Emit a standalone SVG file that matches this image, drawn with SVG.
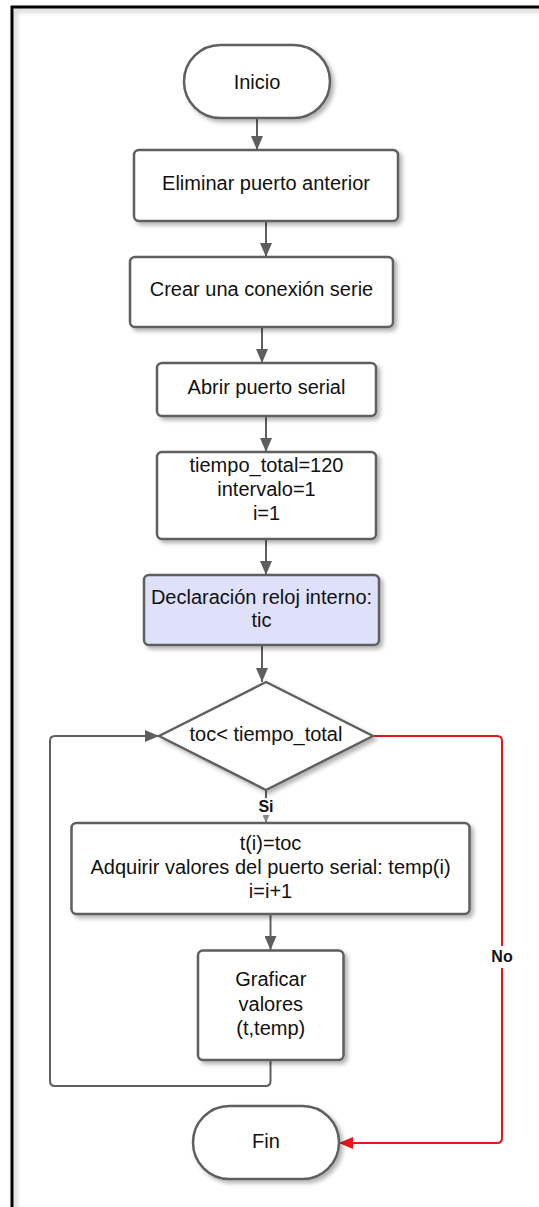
<svg xmlns="http://www.w3.org/2000/svg" width="539" height="1207" viewBox="0 0 539 1207">
<style>
  .node{fill:#ffffff;stroke:#5e5e5e;stroke-width:2.5;filter:url(#sh)}
  .hl{fill:#dfe0fa}
  .t{font-family:"Liberation Sans",Arial,sans-serif;font-size:20px;fill:#111;text-anchor:middle}
  .lbl{font-family:"Liberation Sans",Arial,sans-serif;font-size:16px;font-weight:bold;fill:#111;text-anchor:middle}
  .c{fill:none;stroke:#5e5e5e;stroke-width:2}
  .r{fill:none;stroke:#e8161a;stroke-width:2}
</style>
<defs>
  <filter id="sh" x="-20%" y="-20%" width="140%" height="140%">
    <feDropShadow dx="3" dy="3" stdDeviation="2" flood-color="#000" flood-opacity="0.3"/>
  </filter>
  <filter id="fsh" x="-5%" y="-5%" width="110%" height="110%">
    <feDropShadow dx="3" dy="3" stdDeviation="2.5" flood-color="#000" flood-opacity="0.25"/>
  </filter>
  <marker id="ag" viewBox="0 0 14 12" refX="14" refY="6" markerWidth="14" markerHeight="12" markerUnits="userSpaceOnUse" orient="auto">
    <path d="M0,0 L14,6 L0,12 Z" fill="#5e5e5e"/>
  </marker>
  <marker id="as" viewBox="0 0 8 7" refX="8" refY="3.5" markerWidth="8" markerHeight="7" markerUnits="userSpaceOnUse" orient="auto">
    <path d="M0,0 L8,3.5 L0,7 Z" fill="#8a8a8a"/>
  </marker>
  <marker id="ar" viewBox="0 0 14 12" refX="14" refY="6" markerWidth="14" markerHeight="12" markerUnits="userSpaceOnUse" orient="auto">
    <path d="M0,0 L14,6 L0,12 Z" fill="#e8161a"/>
  </marker>
</defs>
<rect width="539" height="1207" fill="#ffffff"/>
<rect x="12" y="7" width="560" height="1230" fill="none" stroke="#000" stroke-width="3" filter="url(#fsh)"/>

<g id="connectors">
  <line class="c" x1="257" y1="118" x2="257" y2="150" marker-end="url(#ag)"/>
  <line class="c" x1="266" y1="221" x2="266" y2="257" marker-end="url(#ag)"/>
  <line class="c" x1="262" y1="327" x2="262" y2="363" marker-end="url(#ag)"/>
  <line class="c" x1="266" y1="416" x2="266" y2="452" marker-end="url(#ag)"/>
  <line class="c" x1="266" y1="539" x2="266" y2="575" marker-end="url(#ag)"/>
  <line class="c" x1="262" y1="645" x2="262" y2="682" marker-end="url(#ag)"/>
  <line class="c" x1="266" y1="790" x2="266" y2="823" stroke="#8a8a8a" stroke-width="1.5" marker-end="url(#as)"/>
  <rect x="254" y="798" width="24" height="17" fill="#ffffff"/>
  <text class="lbl" x="266" y="812">Si</text>
  <line class="c" x1="270.5" y1="914" x2="270.5" y2="950" marker-end="url(#ag)"/>
  <path class="c" d="M270.5,1060 V1081 Q270.5,1086 265.5,1086 H55 Q50,1086 50,1081 V741 Q50,736 55,736 H159" marker-end="url(#ag)"/>
  <path class="r" d="M373,736 H497 Q502,736 502,741 V1138 Q502,1143 497,1143 H339" marker-end="url(#ar)"/>
  <rect x="487" y="946" width="30" height="22" fill="#ffffff"/>
  <text class="lbl" x="502" y="962">No</text>
</g>

<g id="inicio">
  <rect class="node" x="184" y="45" width="146" height="73" rx="36.5"/>
  <text class="t" x="257" y="89">Inicio</text>
</g>
<g id="eliminar">
  <rect class="node" x="134" y="150" width="264" height="71" rx="5"/>
  <text class="t" x="266" y="190">Eliminar puerto anterior</text>
</g>
<g id="crear">
  <rect class="node" x="130" y="257" width="263" height="70" rx="5"/>
  <text class="t" x="261.5" y="296">Crear una conexión serie</text>
</g>
<g id="abrir">
  <rect class="node" x="157" y="363" width="219" height="53" rx="5"/>
  <text class="t" x="266.5" y="394">Abrir puerto serial</text>
</g>
<g id="init">
  <rect class="node" x="157" y="452" width="219" height="87" rx="5"/>
  <text class="t" x="266.5" y="472">tiempo_total=120</text>
  <text class="t" x="266.5" y="496">intervalo=1</text>
  <text class="t" x="266.5" y="520">i=1</text>
</g>
<g id="reloj">
  <rect class="node hl" x="144" y="575" width="235" height="70" rx="5"/>
  <text class="t" x="261.5" y="604">Declaración reloj interno:</text>
  <text class="t" x="261.5" y="627">tic</text>
</g>
<g id="decision">
  <polygon class="node" points="266,682 373,736 266,790 159,736" stroke-linejoin="round"/>
  <text class="t" x="266" y="741">toc&lt; tiempo_total</text>
</g>
<g id="adquirir">
  <rect class="node" x="71.5" y="823" width="398" height="91" rx="5"/>
  <text class="t" x="270.5" y="850">t(i)=toc</text>
  <text class="t" x="270.5" y="874">Adquirir valores del puerto serial: temp(i)</text>
  <text class="t" x="270.5" y="898">i=i+1</text>
</g>
<g id="graficar">
  <rect class="node" x="198" y="950.5" width="145.5" height="109.5" rx="5"/>
  <text class="t" x="270.8" y="986">Graficar</text>
  <text class="t" x="270.8" y="1011">valores</text>
  <text class="t" x="270.8" y="1035">(t,temp)</text>
</g>
<g id="fin">
  <rect class="node" x="193" y="1106" width="146" height="73" rx="36.5"/>
  <text class="t" x="266" y="1148">Fin</text>
</g>
</svg>
